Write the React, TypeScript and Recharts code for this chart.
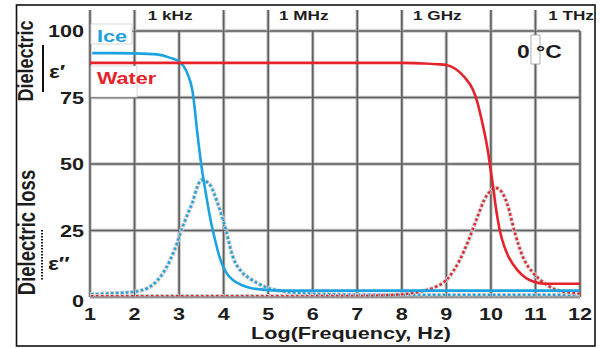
import React from 'react';
import { LineChart, Line, XAxis, YAxis, CartesianGrid } from 'recharts';

const xTicks = [1, 2, 3, 4, 5, 6, 7, 8, 9, 10, 11, 12];
const yTicks = [0, 25, 50, 75, 100];
const topTickValues = [3, 6, 9, 12];
const topTickLabels = ['1 kHz', '1 MHz', '1 GHz', '1 THz'];

// Ice, dielectric constant (solid blue)
const iceRealX = [1.05, 1.5, 2, 2.5, 2.8, 3.0, 3.1, 3.2, 3.3, 3.35, 3.4, 3.45, 3.5, 3.55, 3.6, 3.7, 3.8, 3.9, 4.0, 4.1, 4.2, 4.4, 4.6, 5.0, 5.5, 6, 8, 10, 12];
const iceRealY = [91.7, 91.7, 91.6, 91.2, 89.9, 88.5, 86.8, 83.5, 77.5, 71, 63, 56, 49.5, 44, 39, 29.5, 22, 15.5, 11, 8.2, 6.5, 4.5, 3.4, 2.6, 2.4, 2.4, 2.4, 2.4, 2.4];
// Ice, dielectric loss (dotted blue)
const iceImagX = [1, 1.5, 2, 2.3, 2.5, 2.6, 2.8, 2.95, 3.05, 3.2, 3.3, 3.4, 3.5, 3.6, 3.7, 3.87, 4.03, 4.2, 4.43, 4.6, 4.75, 5.0, 5.3, 5.7, 6.5, 8, 10, 12];
const iceImagY = [1.0, 1.4, 2.0, 3.4, 6.0, 8.0, 13.9, 20, 25, 31.5, 35.5, 41, 44, 43.5, 42, 35, 26.5, 15.5, 9, 6.8, 5.3, 3.4, 2.2, 1.5, 1.0, 0.8, 0.8, 0.8];
// Water, dielectric constant (solid red)
const waterRealX = [1, 4, 8, 8.5, 8.8, 9.0, 9.2, 9.4, 9.6, 9.7, 9.8, 9.9, 9.95, 10.0, 10.05, 10.1, 10.2, 10.3, 10.4, 10.6, 10.8, 10.95, 11.2, 11.5, 12];
const waterRealY = [88, 88, 88, 87.8, 87.5, 87.2, 85.8, 82.8, 77.8, 73, 66, 58, 53, 47, 41.5, 35, 25, 19, 15, 10, 7, 5.8, 5.0, 5.0, 5.0];
// Water, dielectric loss (dotted red)
const waterImagX = [1, 4, 7, 8, 8.4, 8.7, 9.0, 9.3, 9.5, 9.7, 9.85, 10.0, 10.1, 10.2, 10.36, 10.54, 10.72, 10.95, 11.17, 11.48, 11.85, 12];
const waterImagY = [0.3, 0.3, 0.4, 1.0, 2.0, 3.4, 6.4, 13.9, 21.4, 30.2, 36.5, 40, 41, 40.3, 35.3, 24, 15, 9, 5.6, 2.6, 1.5, 1.3];

const toPoints = (xs: number[], ys: number[]) => xs.map((x, i) => ({ x, y: ys[i] }));
const iceReal = toPoints(iceRealX, iceRealY);
const iceImag = toPoints(iceImagX, iceImagY);
const waterReal = toPoints(waterRealX, waterRealY);
const waterImag = toPoints(waterImagX, waterImagY);

const FONT = '"Liberation Sans", Arial, Helvetica, sans-serif';
const SX = 1.27;
const TEXT = '#1c1c1c';
const BLUE = '#1ca2e0';
const RED = '#e6222a';
const GRID = '#5e5e5e';
const GRID_LIGHT = '#c6c6c6';
const HALO = '#cdcdcd';

const BottomTick = (props: any) => {
  const { x, y, payload } = props;
  return (
    <text transform={`translate(${x},${y + 23}) scale(${SX},1)`} textAnchor="middle"
      fontFamily={FONT} fontWeight="bold" fontSize={17} fill={TEXT}>{payload.value}</text>
  );
};

const LeftTick = (props: any) => {
  const { x, y, payload } = props;
  const extra = payload.value === 0 ? 4 : 0;
  return (
    <text transform={`translate(${x - 6},${y + 6 + extra}) scale(${SX},1)`} textAnchor="end"
      fontFamily={FONT} fontWeight="bold" fontSize={17} fill={TEXT}>{payload.value}</text>
  );
};

const TopTick = (props: any) => {
  const { x, y, payload } = props;
  const idx = topTickValues.indexOf(payload.value);
  if (idx >= 0) {
    return (
      <text transform={`translate(${x - 9},${y - 11}) scale(${SX},1)`} textAnchor="middle"
        fontFamily={FONT} fontWeight="bold" fontSize={13.5} fill={TEXT}>{topTickLabels[idx]}</text>
    );
  }
  return (
    <g>
      <line x1={x} y1={y - 21} x2={x} y2={y} stroke={GRID_LIGHT} strokeWidth={3.5} />
      <line x1={x} y1={y - 21} x2={x} y2={y} stroke={GRID} strokeWidth={1.6} />
    </g>
  );
};

const Overlay = () => (
  <svg width={601} height={348} style={{ position: 'absolute', left: 0, top: 0, pointerEvents: 'none' }}>
    <rect x={16.5} y={5} width={578.5} height={341} fill="none" stroke="#111" strokeWidth={1.6} />
    {/* y-axis titles */}
    <text transform="translate(33,61) rotate(-90) scale(1,1.27)" textAnchor="middle"
      fontFamily={FONT} fontWeight="bold" fontSize={18} fill={TEXT}>Dielectric</text>
    <line x1={43} y1={45} x2={43} y2={92} stroke="#111" strokeWidth={2} />
    <text transform="translate(49,78) scale(1.27,1)" fontFamily={FONT} fontWeight="bold" fontSize={18} fill={TEXT}>ε′</text>
    <text transform="translate(35,232.5) rotate(-90) scale(1,1.27)" textAnchor="middle"
      fontFamily={FONT} fontWeight="bold" fontSize={18.5} fill={TEXT}>Dielectric loss</text>
    <line x1={42} y1={230} x2={42} y2={280} stroke="#111" strokeWidth={2} strokeDasharray="1.5 1.5" />
    <text transform="translate(48,270) scale(1.27,1)" fontFamily={FONT} fontWeight="bold" fontSize={18} fill={TEXT}>ε″</text>
    {/* x-axis title */}
    <text transform="translate(351,338.5) scale(1.27,1)" textAnchor="middle"
      fontFamily={FONT} fontWeight="bold" fontSize={17} fill={TEXT}>Log(Frequency, Hz)</text>
    {/* legend */}
    <rect x={91} y={24} width={41} height={20} fill="#fff" stroke="#d0d0d0" strokeWidth={0.8} />
    <text transform="translate(97,42) scale(1.27,1)" fontFamily={FONT} fontWeight="bold" fontSize={17} fill={BLUE}>Ice</text>
    <rect x={91} y={66} width={46} height={31} fill="#fff" stroke="#d0d0d0" strokeWidth={0.8} />
    <text transform="translate(97,84) scale(1.27,1)" fontFamily={FONT} fontWeight="bold" fontSize={17} fill={RED}>Water</text>
    {/* temperature */}
    <rect x={531} y={35} width={9} height={29} fill="#fff" stroke="#9a9a9a" strokeWidth={0.8} />
    <text transform="translate(517,58) scale(1.27,1)" fontFamily={FONT} fontWeight="bold" fontSize={18} fill={TEXT}>0 °C</text>
  </svg>
);

export default function App() {
  return (
    <div style={{ position: 'absolute', left: 0, top: 0, width: 601, height: 348, background: '#fff' }}>
      <LineChart width={601} height={348} margin={{ top: 10, right: 21, bottom: 21, left: 0 }}>
        <CartesianGrid stroke={GRID_LIGHT} strokeWidth={3.5} />
        <CartesianGrid stroke={GRID} strokeWidth={1.6} />
        <XAxis dataKey="x" type="number" domain={[1, 12]} ticks={xTicks} interval={0}
          allowDataOverflow height={30} tickSize={0} tickMargin={0}
          axisLine={{ stroke: '#9a9a9a', strokeWidth: 1.5 }} tickLine={false} tick={<BottomTick />} />
        <XAxis xAxisId="top" orientation="top" dataKey="x" type="number" domain={[1, 12]} ticks={xTicks}
          interval={0} allowDataOverflow height={21} tickSize={0} tickMargin={0}
          axisLine={false} tickLine={false} tick={<TopTick />} />
        <YAxis type="number" domain={[0, 100]} ticks={yTicks} interval={0} allowDataOverflow width={90}
          tickSize={0} tickMargin={0} axisLine={false} tickLine={false} tick={<LeftTick />} />
        {/* dielectric loss (dotted with gray halo) */}
        <Line data={iceImag} dataKey="y" type="monotone" stroke={HALO} strokeWidth={4.2}
          strokeDasharray="4 1" dot={false} isAnimationActive={false} />
        <Line data={iceImag} dataKey="y" type="monotone" stroke={BLUE} strokeWidth={2.4}
          strokeDasharray="2.5 2.5" strokeDashoffset={-1} dot={false} isAnimationActive={false} />
        <Line data={waterImag} dataKey="y" type="monotone" stroke={HALO} strokeWidth={4.2}
          strokeDasharray="4 1" dot={false} isAnimationActive={false} />
        <Line data={waterImag} dataKey="y" type="monotone" stroke={RED} strokeWidth={2.4}
          strokeDasharray="2.5 2.5" strokeDashoffset={-1} dot={false} isAnimationActive={false} />
        {/* dielectric constant (solid) */}
        <Line data={iceReal} dataKey="y" type="monotone" stroke={BLUE} strokeWidth={2.6}
          dot={false} isAnimationActive={false} />
        <Line data={waterReal} dataKey="y" type="monotone" stroke={RED} strokeWidth={2.6}
          dot={false} isAnimationActive={false} />
      </LineChart>
      <Overlay />
    </div>
  );
}
